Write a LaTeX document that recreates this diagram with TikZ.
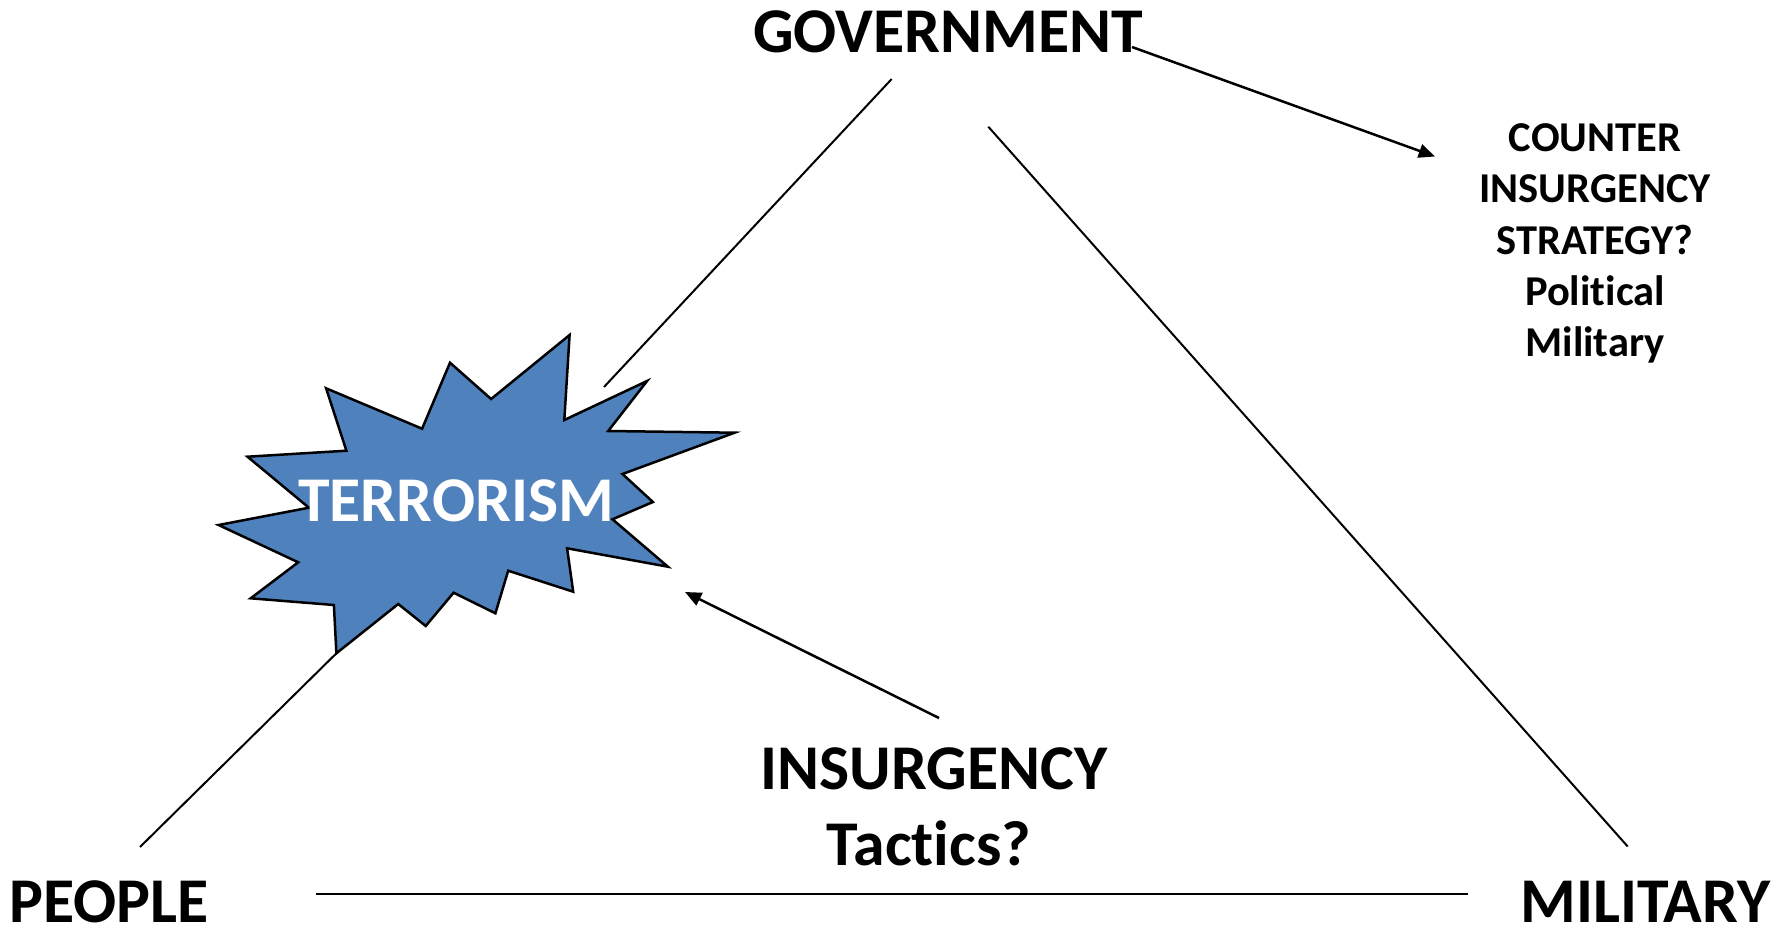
\documentclass[tikz,border=0pt]{standalone}
\usepackage{fontspec}
\setmainfont{Carlito}[Ligatures=NoCommon]
\usetikzlibrary{arrows.meta}
\definecolor{burstblue}{HTML}{4F81BD}
\tikzset{
  lbl/.style={inner sep=0pt, anchor=base, font=\bfseries\fontsize{25.5}{30}\selectfont},
  sml/.style={inner sep=0pt, anchor=base, font=\bfseries\fontsize{17}{20}\selectfont},
  thinline/.style={line width=0.8pt, black},
  arr/.style={line width=1pt, black, -{Triangle[length=6.5pt,width=5.5pt]}},
  burst/.style={fill=burstblue, draw=black, line width=1pt, line join=miter}
}
\begin{document}
\begin{tikzpicture}[x=0.4pt,y=-0.4pt]
\useasboundingbox[fill=white] (0,0) rectangle (1788,934);
% labels
\node[lbl] (gov) at (948,52.7) {GOVERNMENT};
\node[lbl] (people) at (108.7,922) {PEOPLE};
\node[lbl] (military) at (1645.5,922) {MILITARY};
\node[lbl] (insurg) at (934,789.3) {INSURGENCY};
\node[lbl] (tactics) at (929,865) {Tactics?};
\node[sml] (c1) at (1595,151.5) {COUNTER};
\node[sml] (c2) at (1595,202.8) {INSURGENCY};
\node[sml] (c3) at (1595,254.1) {STRATEGY?};
\node[sml] (c4) at (1595,305.4) {Political};
\node[sml] (c5) at (1595,356.7) {Military};
% coordinates
\coordinate (govL) at (891.7,79);
\coordinate (terrTop) at (604,387);
\coordinate (govR) at (988.3,126.7);
\coordinate (milTop) at (1627.7,846.5);
\coordinate (peopleTop) at (140,847);
\coordinate (burstBot) at (336.4,653.3);
\coordinate (baseL) at (316,894);
\coordinate (baseR) at (1467.7,894);
\coordinate (govArrS) at (1132,47);
\coordinate (cntTip) at (1435,156.5);
\coordinate (insArrS) at (939,718);
\coordinate (terrTip) at (685,592);
% lines
\draw[thinline] (govL) -- (terrTop);
\draw[thinline] (govR) -- (milTop);
\draw[thinline] (peopleTop) -- (burstBot);
\draw[thinline] (baseL) -- (baseR);
\draw[arr] (govArrS) -- (cntTip);
\draw[arr] (insArrS) -- (terrTip);
% starburst
\draw[burst] (569.6,335) -- (564.3,420) -- (647.1,381) -- (608.2,431) -- (734.6,432.7)
  -- (622.5,474) -- (652.9,502) -- (612.5,519.3) -- (667.9,566.7) -- (567.1,548.3)
  -- (573.2,591.7) -- (508.2,570.7) -- (495.4,613.3) -- (453.6,592.7) -- (425.7,626)
  -- (398.2,604) -- (336.4,653.3) -- (333.9,605) -- (250.7,598.3) -- (298.2,562.3)
  -- (218.6,525) -- (308.9,507.7) -- (247.5,456.7) -- (346.4,450.7) -- (326.1,388.3)
  -- (422.1,428.7) -- (450,362.7) -- (491.1,399) -- cycle;
\node[lbl, text=white] (terror) at (456,521.7) {TERRORISM};
\end{tikzpicture}
\end{document}
